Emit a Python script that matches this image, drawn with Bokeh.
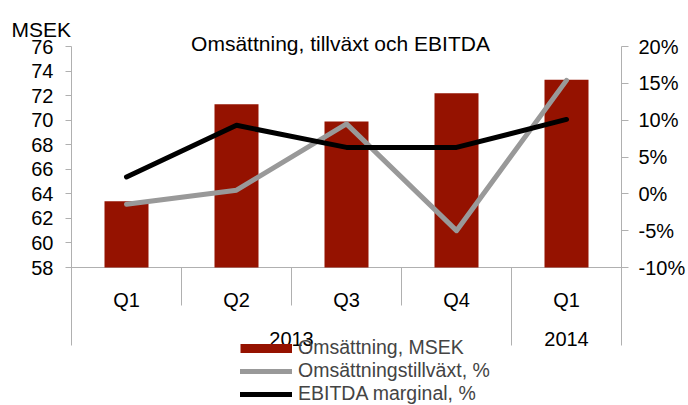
from bokeh.plotting import figure
from bokeh.models import (Range1d, LinearAxis, FixedTicker, PrintfTickFormatter,
                          Label, Legend, LegendItem)
from bokeh.core.properties import value
from bokeh.embed import file_html
from bokeh.resources import INLINE

# ---- data ----
quarters = ["Q1", "Q2", "Q3", "Q4", "Q1"]
years = ["2013", "2013", "2013", "2013", "2014"]
revenue = [63.4, 71.3, 69.9, 72.2, 73.3]          # Omsättning, MSEK
growth = [-1.4, 0.5, 9.5, -5.0, 15.4]             # Omsättningstillväxt, %
ebitda = [2.3, 9.3, 6.3, 6.3, 10.1]               # EBITDA marginal, %
left_ticks = [58, 60, 62, 64, 66, 68, 70, 72, 74, 76]
right_ticks = [-10, -5, 0, 5, 10, 15, 20]

title_text = "Omsättning, tillväxt och EBITDA"
unit_text = "MSEK"
legend_labels = ["Omsättning, MSEK", "Omsättningstillväxt, %", "EBITDA marginal, %"]

# ---- style / layout (pixels) ----
BAR = "#951200"
GREY = "#999999"
BLACK = "#000000"
AXIS = "#b0b0b0"
FONT = "Liberation Sans"

W, H = 688, 405
PL, PR = 71, 621          # plot area left / right
PT, PY0 = 46, 267         # top tick (76 / 20%) and bottom tick (58 / -10%)
PB = 345                  # bottom of axis lines / group dividers
PDIV = 305                # bottom of dividers between quarters

n = len(quarters)
cw = (PR - PL) / n                      # pixels per category
ppl = (PY0 - PT) / (left_ticks[-1] - left_ticks[0])
ppr = (PY0 - PT) / (right_ticks[-1] - right_ticks[0])

def yl(py):   # pixel row -> left-axis value
    return left_ticks[0] + (PY0 - py) / ppl

def yr(py):   # pixel row -> right-axis value
    return right_ticks[0] + (PY0 - py) / ppr

xc = [i + 0.5 for i in range(n)]

p = figure(width=W, height=H, output_backend="svg", toolbar_location=None, title=None,
           x_axis_location=None, y_axis_location=None,
           x_range=Range1d(-PL / cw, n + (W - PR) / cw),
           y_range=Range1d(yl(H), yl(0)),
           min_border=0, min_border_left=0, min_border_right=0,
           min_border_top=0, min_border_bottom=0)
p.extra_y_ranges = {"pct": Range1d(yr(H), yr(0))}
p.outline_line_color = None
p.grid.visible = False
p.background_fill_color = "white"
p.border_fill_color = "white"

def style_axis(ax, tick_out, standoff):
    ax.axis_line_color = AXIS
    ax.major_tick_line_color = AXIS
    ax.major_tick_out = tick_out
    ax.major_tick_in = 0
    ax.minor_tick_line_color = None
    ax.major_label_text_font = FONT
    ax.major_label_text_font_size = "20px"
    ax.major_label_text_color = "black"
    ax.major_label_standoff = standoff

la = LinearAxis(ticker=FixedTicker(ticks=left_ticks), fixed_location=0,
                bounds=(yl(PB), left_ticks[-1]))
style_axis(la, 6, 12)
p.add_layout(la, "left")

ra = LinearAxis(y_range_name="pct", ticker=FixedTicker(ticks=right_ticks),
                formatter=PrintfTickFormatter(format="%d%%"), fixed_location=n,
                bounds=(yr(PB), right_ticks[-1]))
style_axis(ra, 7, 10)
p.add_layout(ra, "right")

# category axis line
p.segment(x0=[0], y0=[left_ticks[0]], x1=[n], y1=[left_ticks[0]], line_color=AXIS, line_width=1)

# dividers between categories
b_x, b_y1 = [], []
for b in range(1, n):
    b_x.append(b)
    b_y1.append(yl(PDIV) if years[b - 1] == years[b] else yl(PB))
p.segment(x0=b_x, y0=[left_ticks[0]] * len(b_x), x1=b_x, y1=b_y1,
          line_color=AXIS, line_width=1)

# category labels
p.text(x=xc, y=[yl(299)] * n, text=quarters,
       text_align="center", text_baseline="alphabetic",
       text_font=value(FONT), text_font_size="20px", text_color="black")
uyears = []
for y in years:
    if y not in uyears:
        uyears.append(y)
ycent = [sum(c for c, yy in zip(xc, years) if yy == u) / years.count(u) for u in uyears]
p.text(x=ycent, y=[yl(338)] * len(uyears), text=uyears,
       text_align="center", text_baseline="alphabetic",
       text_font=value(FONT), text_font_size="20px", text_color="black")

# data
p.vbar(x=xc, top=revenue, bottom=left_ticks[0], width=0.4, fill_color=BAR, line_color=None)
g = p.line(x=xc, y=growth, y_range_name="pct", line_color=GREY, line_width=5,
           line_cap="round", line_join="round")
e = p.line(x=xc, y=ebitda, y_range_name="pct", line_color=BLACK, line_width=5,
           line_cap="round", line_join="round")
# legend swatch for the bars (a flat bar-coloured stroke, drawn nowhere in the plot)
bar_proxy = p.line(x=xc, y=[float("nan")] * n, line_color=BAR, line_width=9, line_cap="butt")

legend = Legend(items=[LegendItem(label=legend_labels[0], renderers=[bar_proxy]),
                       LegendItem(label=legend_labels[1], renderers=[g]),
                       LegendItem(label=legend_labels[2], renderers=[e])],
                location=(240, 0), orientation="vertical", padding=0, margin=0,
                spacing=0, glyph_width=52, glyph_height=20, label_height=20,
                label_standoff=6,
                label_text_font=FONT, label_text_font_size="19.5px",
                background_fill_alpha=0, border_line_color=None)
p.add_layout(legend, "center")

p.add_layout(Label(x=340, y=H - 43, x_units="screen", y_units="screen", text=title_text,
                   text_align="center", text_baseline="alphabetic",
                   text_font=FONT, text_font_size="21px", text_color="black"))
p.add_layout(Label(x=11, y=H - 29, x_units="screen", y_units="screen", text=unit_text,
                   text_align="left", text_baseline="alphabetic",
                   text_font=FONT, text_font_size="21px", text_color="black"))

open("out.html", "w").write(file_html(p, INLINE))
